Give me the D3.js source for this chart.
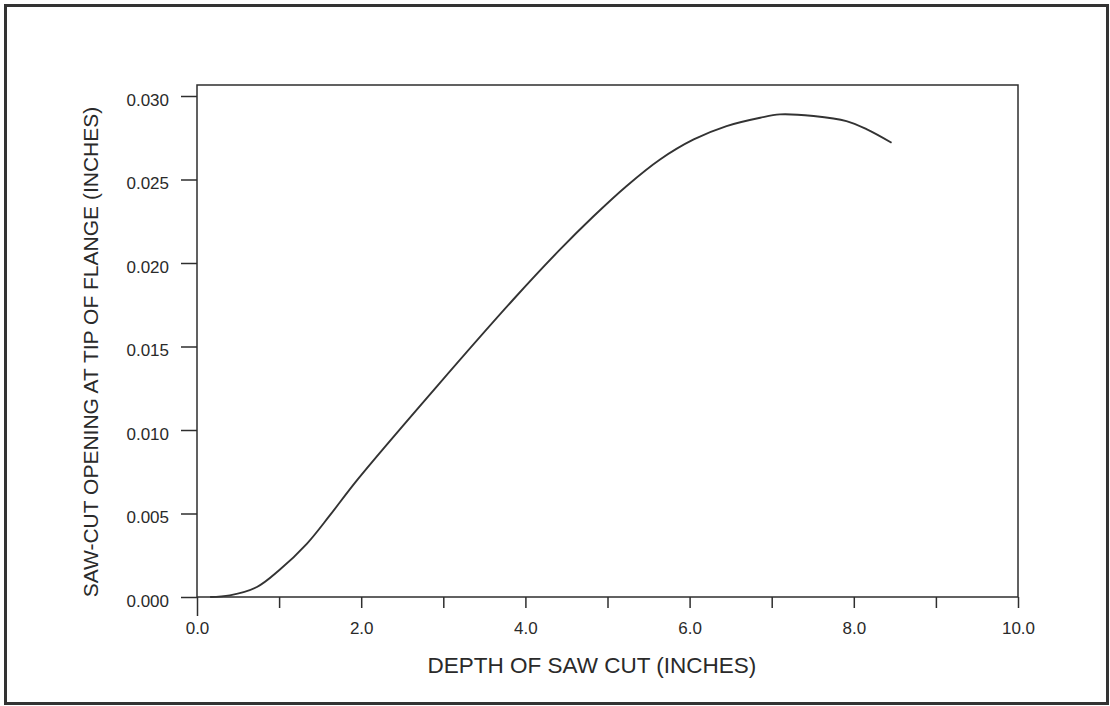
<!DOCTYPE html>
<html>
<head>
<meta charset="utf-8">
<script src="https://cdn.jsdelivr.net/npm/d3@7"></script>
<style>
  html, body { margin: 0; padding: 0; background: #fff; }
  svg { display: block; }
  text { font-family: "Liberation Sans", Arial, sans-serif; fill: #2a2a2a; }
</style>
</head>
<body>
<svg id="chart" width="1110" height="706"></svg>
<script>
// Data
const depth   = [0.16, 0.40, 0.73, 1.00, 1.34, 1.62, 1.95, 2.92, 3.85, 4.42, 4.83, 5.23, 5.64, 6.05, 6.45, 6.86, 7.10, 7.51, 7.91, 8.16, 8.46];
const opening = [0.0000, 0.0001, 0.0006, 0.0016, 0.0032, 0.0049, 0.0070, 0.0126, 0.0178, 0.0208, 0.0228, 0.0246, 0.0262, 0.0274, 0.0282, 0.0287, 0.0289, 0.0288, 0.0285, 0.0280, 0.0272];
const xTicks = [0, 1, 2, 3, 4, 5, 6, 7, 8, 9, 10];
const xTickLabels = ["0.0", "", "2.0", "", "4.0", "", "6.0", "", "8.0", "", "10.0"];
const yTicks = [0.000, 0.005, 0.010, 0.015, 0.020, 0.025, 0.030];
const yTickLabels = ["0.000", "0.005", "0.010", "0.015", "0.020", "0.025", "0.030"];
const xTitle = "DEPTH OF SAW CUT (INCHES)";
const yTitle = "SAW-CUT OPENING AT TIP OF FLANGE (INCHES)";

(function () {
const svg = d3.select("#chart");
const ink = "#2e2e2e";

// outer frame
svg.append("rect")
  .attr("x", 5.5).attr("y", 5.5).attr("width", 1102).attr("height", 698)
  .attr("fill", "none").attr("stroke", "#333").attr("stroke-width", 3);

const pLeft = 197, pRight = 1018, pTop = 85, pBottom = 597;
const x = d3.scaleLinear().domain([0, 10]).range([pLeft, pRight]);
const y = d3.scaleLinear().domain([0, 0.030]).range([pBottom, 96]);

// plot frame
svg.append("rect")
  .attr("x", pLeft).attr("y", pTop).attr("width", pRight - pLeft).attr("height", pBottom - pTop)
  .attr("fill", "none").attr("stroke", ink).attr("stroke-width", 1.5);

// x axis ticks
const xAxis = d3.axisBottom(x).tickValues(xTicks)
  .tickSize(11).tickPadding(0)
  .tickFormat((d, i) => xTickLabels[i]);
const gx = svg.append("g").attr("transform", `translate(0,${pBottom})`).call(xAxis);
gx.select(".domain").remove();
gx.selectAll(".tick line").attr("stroke", ink).attr("stroke-width", 1.5)
  .attr("y2", d => d === 0 ? 19 : 11);
gx.selectAll(".tick text")
  .attr("y", 37).attr("dy", 0)
  .attr("font-size", 17).attr("fill", "#2a2a2a")
  .style("font-family", "'Liberation Sans', Arial, sans-serif");

// y axis ticks
const yAxis = d3.axisLeft(y).tickValues(yTicks)
  .tickSize(16).tickPadding(0)
  .tickFormat((d, i) => yTickLabels[i]);
const gy = svg.append("g").attr("transform", `translate(${pLeft},0)`).call(yAxis);
gy.select(".domain").remove();
gy.selectAll(".tick line").attr("stroke", ink).attr("stroke-width", 1.5);
gy.selectAll(".tick text")
  .attr("x", -28).attr("dy", 9)
  .attr("font-size", 17).attr("fill", "#2a2a2a")
  .style("font-family", "'Liberation Sans', Arial, sans-serif");

// curve
const pts = depth.map((d, i) => [d, opening[i]]);
const line = d3.line().x(d => x(d[0])).y(d => y(d[1])).curve(d3.curveCatmullRom.alpha(0.5));
svg.append("path").datum(pts)
  .attr("d", line)
  .attr("fill", "none").attr("stroke", "#333").attr("stroke-width", 1.9);

// titles
svg.append("text")
  .attr("x", 592).attr("y", 673)
  .attr("text-anchor", "middle").attr("font-size", 22.5)
  .text(xTitle);

svg.append("text")
  .attr("transform", "translate(98,352) rotate(-90)")
  .attr("text-anchor", "middle").attr("font-size", 21)
  .text(yTitle);
})();
</script>
</body>
</html>
